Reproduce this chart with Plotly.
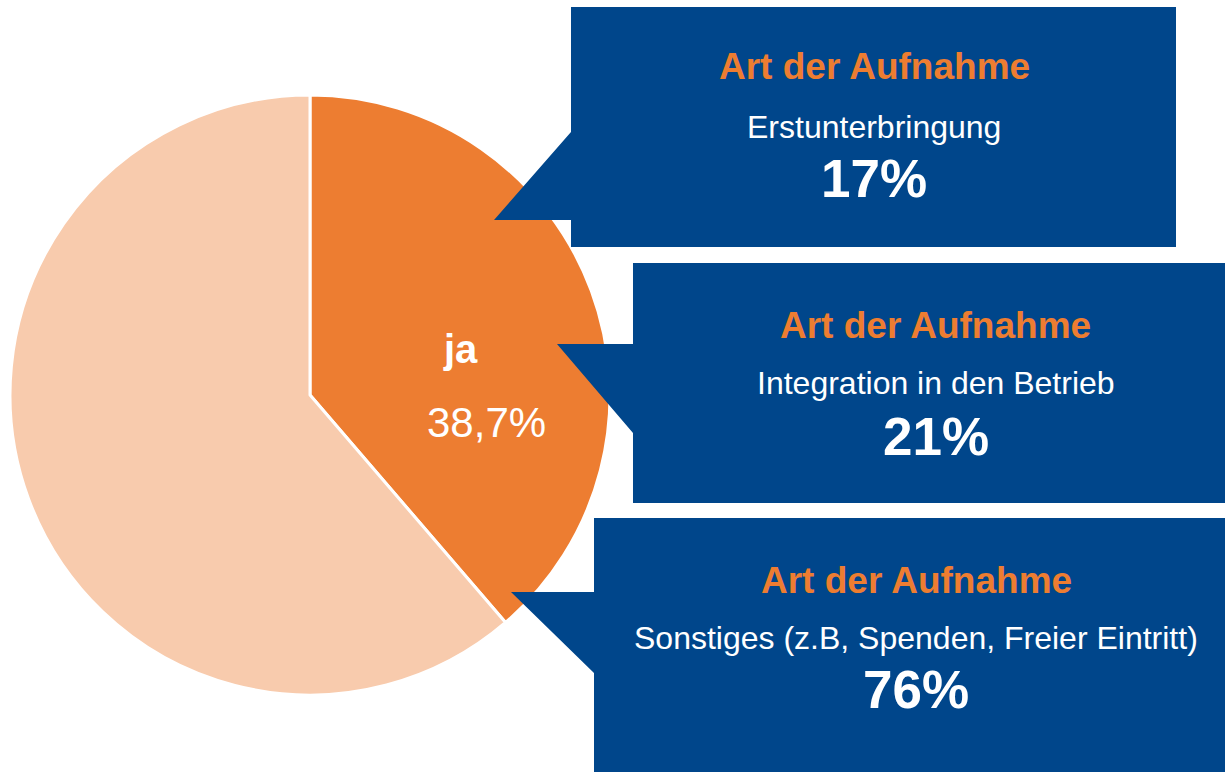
import plotly.graph_objects as go

W, H = 1225, 772

# data
slice_labels = ['ja', 'nein']
slice_values = [38.7, 61.3]
slice_text = ['38,7%', '']
box_titles = ['Art der Aufnahme', 'Art der Aufnahme', 'Art der Aufnahme']
box_categories = ['Erstunterbringung',
                  'Integration in den Betrieb',
                  'Sonstiges (z.B, Spenden, Freier Eintritt)']
box_values = ['17%', '21%', '76%']

ORANGE = '#ED7D31'
PEACH = '#F8CBAD'
BLUE = '#00468B'
FONT = 'Liberation Sans, Arial, sans-serif'


def px(x):
    return x / W


def py(y):
    return 1 - y / H


def path(points):
    return 'M ' + ' L '.join(f'{px(x):.5f},{py(y):.5f}' for x, y in points) + ' Z'


fig = go.Figure()
fig.add_trace(go.Pie(
    labels=slice_labels,
    values=slice_values,
    sort=False,
    direction='clockwise',
    rotation=0,
    marker=dict(colors=[ORANGE, PEACH], line=dict(color='white', width=3)),
    textinfo='none',
    hoverinfo='label+percent',
    showlegend=False,
    domain=dict(x=[px(10), px(610)], y=[py(695), py(95)]),
))

# callout boxes with pointers
callouts = [
    [(571, 7), (1176, 7), (1176, 247), (571, 247), (571, 220), (494, 220), (571, 132)],
    [(633, 263), (1240, 263), (1240, 503), (633, 503), (633, 433), (557, 344), (633, 344)],
    [(594, 518), (1240, 518), (1240, 790), (594, 790), (594, 673), (511, 592), (594, 592)],
]
shapes = [dict(type='path', xref='paper', yref='paper', path=path(p),
               fillcolor=BLUE, line=dict(width=0), layer='above')
          for p in callouts]

annotations = []
text_x = [874, 936, 916]
text_y = [(67, 127, 179), (326, 383, 436), (580, 638, 689)]
for i in range(3):
    ty, sy, vy = text_y[i]
    annotations.append(dict(x=px(text_x[i]), y=py(ty), text=f'<b>{box_titles[i]}</b>',
                            font=dict(family=FONT, size=37, color=ORANGE)))
    annotations.append(dict(x=px(text_x[i]), y=py(sy), text=box_categories[i],
                            font=dict(family=FONT, size=32, color='white')))
    annotations.append(dict(x=px(text_x[i]), y=py(vy), text=f'<b>{box_values[i]}</b>',
                            font=dict(family=FONT, size=53, color='white')))

# slice label
annotations.append(dict(x=px(460), y=py(349), text=f'<b>{slice_labels[0]}</b>',
                        font=dict(family=FONT, size=40, color='white')))
annotations.append(dict(x=px(486), y=py(422), text=slice_text[0],
                        font=dict(family=FONT, size=42, color='white')))

for a in annotations:
    a.update(xref='paper', yref='paper', showarrow=False,
             xanchor='center', yanchor='middle')

fig.update_layout(
    width=W,
    height=H,
    margin=dict(l=0, r=0, t=0, b=0),
    paper_bgcolor='white',
    plot_bgcolor='white',
    shapes=shapes,
    annotations=annotations,
)
# drop the default page margin so the figure fills the window exactly
fig.write_html('out.html',
               config={'displayModeBar': False},
               post_script="document.body.style.margin='0';"
                           "document.body.style.overflow='hidden';")
